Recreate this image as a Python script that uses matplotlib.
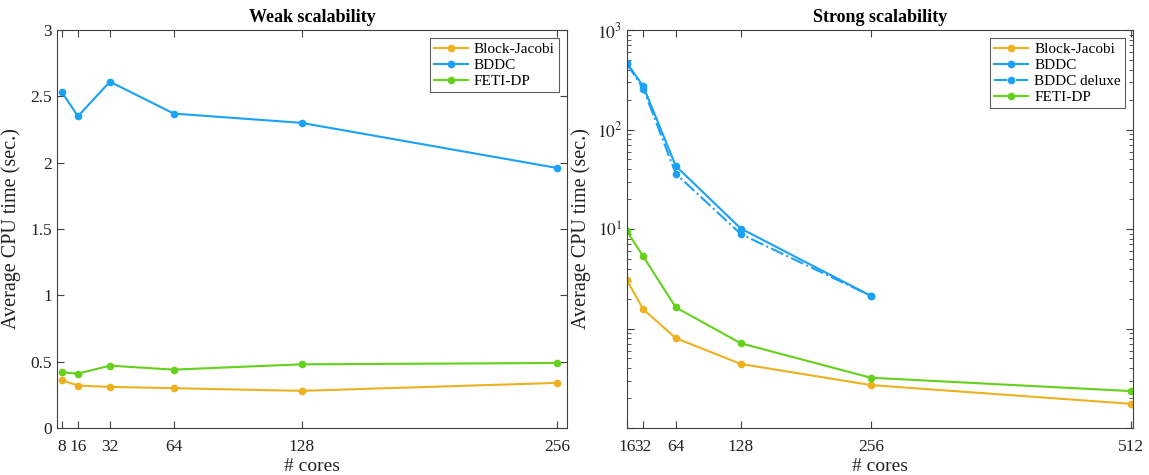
import matplotlib
matplotlib.use("Agg")
import matplotlib.pyplot as plt
from matplotlib.ticker import FixedLocator, LogLocator, NullFormatter, FixedFormatter

plt.rcParams['font.family'] = ['Liberation Serif', 'DejaVu Serif']
plt.rcParams['mathtext.fontset'] = 'stix'

# Weak scalability data
weak_cores = [8, 16, 32, 64, 128, 256]
weak_bj = [0.36, 0.32, 0.31, 0.30, 0.28, 0.34]
weak_bddc = [2.53, 2.35, 2.61, 2.37, 2.30, 1.96]
weak_feti = [0.42, 0.41, 0.47, 0.44, 0.48, 0.49]

# Strong scalability data
strong_cores = [16, 32, 64, 128, 256, 512]
strong_bj = [3.05, 1.56, 0.80, 0.44, 0.27, 0.175]
strong_feti = [9.5, 5.3, 1.63, 0.71, 0.32, 0.235]
strong_bddc_cores = [16, 32, 64, 128, 256]
strong_bddc = [465, 272, 43, 10.1, 2.13]
strong_deluxe = [455, 258, 36, 8.9, 2.13]

weak_xticks = [8, 16, 32, 64, 128, 256]
strong_xticks = [16, 32, 64, 128, 256, 512]
strong_xticklabels = ['16', '32', '64', '128', '256', '512']

c_bj = '#EDB120'
c_bddc = '#1BA1F5'
c_feti = '#64D11C'
axis_col = '#404040'

fig = plt.figure(figsize=(11.49, 4.75), dpi=100)
W, H = 1149, 475
ax1 = fig.add_axes([57 / W, 1 - 428 / H, (567 - 57) / W, (428 - 30) / H])
ax2 = fig.add_axes([627 / W, 1 - 428 / H, (1133 - 627) / W, (428 - 30) / H])

lw = 1.5
ms = 4.5

ax1.plot(weak_cores, weak_bj, '-o', color=c_bj, lw=lw, ms=ms, label='Block-Jacobi')
ax1.plot(weak_cores, weak_bddc, '-o', color=c_bddc, lw=lw, ms=ms, label='BDDC')
ax1.plot(weak_cores, weak_feti, '-o', color=c_feti, lw=lw, ms=ms, label='FETI-DP')
ax1.set_xlim(5.5, 261)
ax1.set_ylim(0, 3)
ax1.set_xticks(weak_xticks)
ax1.set_yticks([0, 0.5, 1, 1.5, 2, 2.5, 3])
ax1.set_yticklabels(['0', '0.5', '1', '1.5', '2', '2.5', '3'])
ax1.set_title('Weak scalability', fontweight='bold', fontsize=13, pad=6)
ax1.set_xlabel('# cores', fontsize=14, labelpad=2)
ax1.set_ylabel('Average CPU time (sec.)', fontsize=14.5, labelpad=7)
leg1 = ax1.legend(loc='upper right', fontsize=11, frameon=True, fancybox=False,
                  edgecolor='#333333', handlelength=2.2, borderpad=0.3,
                  labelspacing=0.15, handletextpad=0.4, borderaxespad=0.5)
leg1.get_frame().set_linewidth(0.8)

ax2.plot(strong_cores, strong_bj, '-o', color=c_bj, lw=lw, ms=ms, label='Block-Jacobi')
ax2.plot(strong_bddc_cores, strong_bddc, '-o', color=c_bddc, lw=lw, ms=ms, label='BDDC')
ax2.plot(strong_bddc_cores, strong_deluxe, '-.o', color=c_bddc, lw=lw, ms=ms, label='BDDC deluxe')
ax2.plot(strong_cores, strong_feti, '-o', color=c_feti, lw=lw, ms=ms, label='FETI-DP')
ax2.set_yscale('log')
ax2.set_xlim(16, 514)
ax2.set_ylim(0.1, 1000)
ax2.set_xticks(strong_xticks)
ax2.set_xticklabels(strong_xticklabels)
ax2.yaxis.set_major_locator(FixedLocator([0.1, 1, 10, 100, 1000]))
ax2.yaxis.set_major_formatter(FixedFormatter(['', '', r'$10^1$', r'$10^2$', r'$10^3$']))
ax2.yaxis.set_minor_locator(LogLocator(base=10, subs=range(2, 10)))
ax2.yaxis.set_minor_formatter(NullFormatter())
ax2.set_title('Strong scalability', fontweight='bold', fontsize=13, pad=6)
ax2.set_xlabel('# cores', fontsize=14, labelpad=2)
ax2.set_ylabel('Average CPU time (sec.)', fontsize=14.5, labelpad=4)
leg2 = ax2.legend(loc='upper right', fontsize=11, frameon=True, fancybox=False,
                  edgecolor='#333333', handlelength=2.2, borderpad=0.3,
                  labelspacing=0.15, handletextpad=0.4, borderaxespad=0.5)
leg2.get_frame().set_linewidth(0.8)

for ax in (ax1, ax2):
    for s in ax.spines.values():
        s.set_color(axis_col)
        s.set_linewidth(0.8)
    ax.tick_params(which='both', direction='in', top=True, right=True,
                   color=axis_col, labelsize=12.5, labelcolor='#222222')
    ax.tick_params(which='major', length=5)
    ax.tick_params(which='minor', length=3)
    ax.tick_params(axis='x', pad=8)
    ax.xaxis.label.set_color('#222222')
    ax.yaxis.label.set_color('#222222')

fig.savefig('out.png', dpi=100)
